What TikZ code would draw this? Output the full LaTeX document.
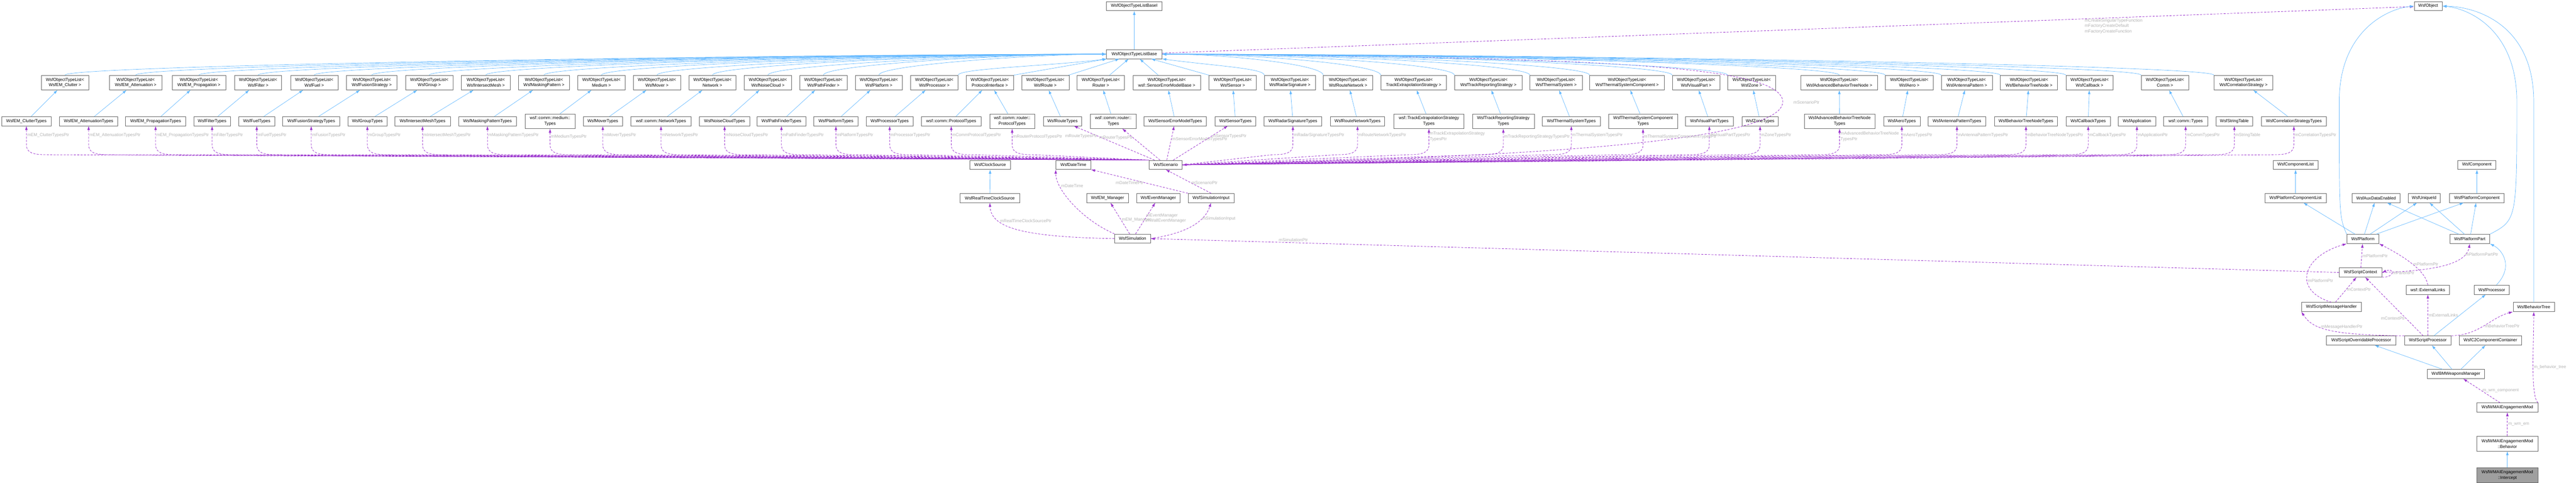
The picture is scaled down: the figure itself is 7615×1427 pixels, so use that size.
\documentclass[tikz,border=0pt]{standalone}
\usepackage{fontspec}
\setmainfont{Liberation Sans}
\usepackage{tikz}
\usetikzlibrary{arrows.meta}
\definecolor{inhblue}{RGB}{99,184,255}
\definecolor{usepurple}{RGB}{154,50,205}
\definecolor{edgegray}{RGB}{102,102,102}

\begin{document}
\begin{tikzpicture}[
    x=0.1mm, y=-0.1mm,
    every node/.style={font=\fontsize{3.6}{4.6}\selectfont},
    cls/.style={rectangle, draw=edgegray, fill=white, line width=0.3pt, minimum height=2.7mm, inner sep=0.4pt, align=center},
    cls2/.style={cls, minimum height=4.3mm},
    focus/.style={cls2, fill=gray!75},
    inh/.style={-{Latex[length=1.2mm,width=0.8mm]}, inhblue, line width=0.3pt},
    use/.style={-{Latex[length=1.2mm,width=0.8mm]}, usepurple, line width=0.35pt, dash pattern=on 0.6mm off 0.4mm},
    useb/.style={{Latex[length=1.2mm,width=0.8mm]}-, usepurple, line width=0.35pt, dash pattern=on 0.6mm off 0.4mm},
    lbl/.style={text=gray!60, inner sep=0.6pt, align=left}
]
\useasboundingbox (0,0) rectangle (7615,1427);

% Base classes
\node[cls, minimum width=16.4mm] (basei) at (3353,18) {WsfObjectTypeListBaseI};
\node[cls, minimum width=16.4mm] (base) at (3353,160) {WsfObjectTypeListBase};
\node[cls, minimum width=8.3mm] (obj) at (7178,18) {WsfObject};

% Type list templates
\node[cls2, minimum width=14.0mm] (lclutter) at (192,244) {WsfObjectTypeList<\\WsfEM\_Clutter >};
\node[cls2, minimum width=15.4mm] (latten) at (401,244) {WsfObjectTypeList<\\WsfEM\_Attenuation >};
\node[cls2, minimum width=15.8mm] (lprop) at (588,244) {WsfObjectTypeList<\\WsfEM\_Propagation >};
\node[cls2, minimum width=13.9mm] (lfilter) at (763,244) {WsfObjectTypeList<\\WsfFilter >};
\node[cls2, minimum width=14.0mm] (lfuel) at (929,244) {WsfObjectTypeList<\\WsfFuel >};
\node[cls2, minimum width=14.9mm] (lfusion) at (1099,244) {WsfObjectTypeList<\\WsfFusionStrategy >};
\node[cls2, minimum width=14.1mm] (lgroup) at (1269,244) {WsfObjectTypeList<\\WsfGroup >};
\node[cls2, minimum width=14.4mm] (lmesh) at (1436,244) {WsfObjectTypeList<\\WsfIntersectMesh >};
\node[cls2, minimum width=15.2mm] (lmask) at (1608,244) {WsfObjectTypeList<\\WsfMaskingPattern >};
\node[cls2, minimum width=14.1mm] (lmedium) at (1778,244) {WsfObjectTypeList<\\Medium >};
\node[cls2, minimum width=14.0mm] (lmover) at (1942,244) {WsfObjectTypeList<\\WsfMover >};
\node[cls2, minimum width=14.0mm] (lnet) at (2106,244) {WsfObjectTypeList<\\Network >};
\node[cls2, minimum width=14.0mm] (lnoise) at (2270,244) {WsfObjectTypeList<\\WsfNoiseCloud >};
\node[cls2, minimum width=14.0mm] (lpath) at (2434,244) {WsfObjectTypeList<\\WsfPathFinder >};
\node[cls2, minimum width=14.0mm] (lplat) at (2598,244) {WsfObjectTypeList<\\WsfPlatform >};
\node[cls2, minimum width=14.0mm] (lproc) at (2762,244) {WsfObjectTypeList<\\WsfProcessor >};
\node[cls2, minimum width=14.0mm] (lprot) at (2926,244) {WsfObjectTypeList<\\ProtocolInterface >};
\node[cls2, minimum width=14.0mm] (lroute) at (3090,244) {WsfObjectTypeList<\\WsfRoute >};
\node[cls2, minimum width=14.0mm] (lrouter) at (3254,244) {WsfObjectTypeList<\\Router >};
\node[cls2, minimum width=20.0mm] (lsem) at (3449,244) {WsfObjectTypeList<\\wsf::SensorErrorModelBase >};
\node[cls2, minimum width=14.0mm] (lsensor) at (3644,244) {WsfObjectTypeList<\\WsfSensor >};
\node[cls2, minimum width=15.0mm] (lradar) at (3813,244) {WsfObjectTypeList<\\WsfRadarSignature >};
\node[cls2, minimum width=14.6mm] (lrnet) at (3985,244) {WsfObjectTypeList<\\WsfRouteNetwork >};
\node[cls2, minimum width=19.4mm] (ltes) at (4179,244) {WsfObjectTypeList<\\TrackExtrapolationStrategy >};
\node[cls2, minimum width=20.0mm] (ltrs) at (4400,244) {WsfObjectTypeList<\\WsfTrackReportingStrategy >};
\node[cls2, minimum width=15.4mm] (lthermal) at (4600,244) {WsfObjectTypeList<\\WsfThermalSystem >};
\node[cls2, minimum width=22.1mm] (ltsc) at (4810,244) {WsfObjectTypeList<\\WsfThermalSystemComponent >};
\node[cls2, minimum width=14.1mm] (lvisual) at (5014,244) {WsfObjectTypeList<\\WsfVisualPart >};
\node[cls2, minimum width=14.1mm] (lzone) at (5178,244) {WsfObjectTypeList<\\WsfZone >};
\node[cls2, minimum width=22.7mm] (labtn) at (5437,244) {WsfObjectTypeList<\\WsfAdvancedBehaviorTreeNode >};
\node[cls2, minimum width=14.1mm] (laero) at (5644,244) {WsfObjectTypeList<\\WsfAero >};
\node[cls2, minimum width=15.1mm] (lant) at (5814,244) {WsfObjectTypeList<\\WsfAntennaPattern >};
\node[cls2, minimum width=16.9mm] (lbtn) at (5998,244) {WsfObjectTypeList<\\WsfBehaviorTreeNode >};
\node[cls2, minimum width=14.0mm] (lcallback) at (6177,244) {WsfObjectTypeList<\\WsfCallback >};
\node[cls2, minimum width=14.0mm] (lcomm) at (6400,244) {WsfObjectTypeList<\\Comm >};
\node[cls2, minimum width=17.4mm] (lcorr) at (6632,244) {WsfObjectTypeList<\\WsfCorrelationStrategy >};

% Concrete type lists
\node[cls, minimum width=14.6mm] (tclutter) at (78,358) {WsfEM\_ClutterTypes};
\node[cls, minimum width=17.2mm] (tatten) at (262,358) {WsfEM\_AttenuationTypes};
\node[cls, minimum width=17.8mm] (tprop) at (460,358) {WsfEM\_PropagationTypes};
\node[cls, minimum width=10.9mm] (tfilter) at (627,358) {WsfFilterTypes};
\node[cls, minimum width=10.6mm] (tfuel) at (759,358) {WsfFuelTypes};
\node[cls, minimum width=16.9mm] (tfusion) at (920,358) {WsfFusionStrategyTypes};
\node[cls, minimum width=11.6mm] (tgroup) at (1086,358) {WsfGroupTypes};
\node[cls, minimum width=16.4mm] (tmesh) at (1249,358) {WsfIntersectMeshTypes};
\node[cls, minimum width=17.1mm] (tmask) at (1441,358) {WsfMaskingPatternTypes};
\node[cls2, minimum width=14.7mm] (tmedium) at (1626,358) {wsf::comm::medium::\\Types};
\node[cls, minimum width=11.6mm] (tmover) at (1782,358) {WsfMoverTypes};
\node[cls, minimum width=17.8mm] (tnet) at (1954,358) {wsf::comm::NetworkTypes};
\node[cls, minimum width=15.0mm] (tnoise) at (2142,358) {WsfNoiseCloudTypes};
\node[cls, minimum width=14.5mm] (tpath) at (2310,358) {WsfPathFinderTypes};
\node[cls, minimum width=13.1mm] (tplat) at (2471,358) {WsfPlatformTypes};
\node[cls, minimum width=13.9mm] (tproc) at (2630,358) {WsfProcessorTypes};
\node[cls, minimum width=17.7mm] (tprot) at (2812,358) {wsf::comm::ProtocolTypes};
\node[cls2, minimum width=13.3mm] (trprot) at (2992,358) {wsf::comm::router::\\ProtocolTypes};
\node[cls, minimum width=11.4mm] (troute) at (3141,358) {WsfRouteTypes};
\node[cls2, minimum width=13.6mm] (trouter) at (3291,358) {wsf::comm::router::\\Types};
\node[cls, minimum width=18.4mm] (tsem) at (3474,358) {WsfSensorErrorModelTypes};
\node[cls, minimum width=12.1mm] (tsensor) at (3652,358) {WsfSensorTypes};
\node[cls, minimum width=17.1mm] (tradar) at (3822,358) {WsfRadarSignatureTypes};
\node[cls, minimum width=16.1mm] (trnet) at (4013,358) {WsfRouteNetworkTypes};
\node[cls2, minimum width=20.7mm] (ttes) at (4224,358) {wsf::TrackExtrapolationStrategy\\Types};
\node[cls2, minimum width=18.3mm] (ttrs) at (4444,358) {WsfTrackReportingStrategy\\Types};
\node[cls, minimum width=17.3mm] (tthermal) at (4645,358) {WsfThermalSystemTypes};
\node[cls2, minimum width=20.4mm] (ttsc) at (4857,358) {WsfThermalSystemComponent\\Types};
\node[cls, minimum width=14.3mm] (tvisual) at (5053,358) {WsfVisualPartTypes};
\node[cls, minimum width=10.7mm] (tzone) at (5203,358) {WsfZoneTypes};
\node[cls2, minimum width=20.9mm] (tabtn) at (5438,358) {WsfAdvancedBehaviorTreeNode\\Types};
\node[cls, minimum width=10.8mm] (taero) at (5622,358) {WsfAeroTypes};
\node[cls, minimum width=17.0mm] (tant) at (5785,358) {WsfAntennaPatternTypes};
\node[cls, minimum width=18.6mm] (tbtn) at (5989,358) {WsfBehaviorTreeNodeTypes};
\node[cls, minimum width=13.2mm] (tcallback) at (6173,358) {WsfCallbackTypes};
\node[cls, minimum width=11.1mm] (app) at (6317,358) {WsfApplication};
\node[cls, minimum width=13.0mm] (tcomm) at (6461,358) {wsf::comm::Types};
\node[cls, minimum width=10.9mm] (strtab) at (6605,358) {WsfStringTable};
\node[cls, minimum width=19.2mm] (tcorr) at (6781,358) {WsfCorrelationStrategyTypes};

% Scenario and simulation
\node[cls, minimum width=11.9mm] (clock) at (2927,487) {WsfClockSource};
\node[cls, minimum width=10.3mm] (datetime) at (3173,487) {WsfDateTime};
\node[cls, minimum width=9.8mm] (scen) at (3446,487) {WsfScenario};
\node[cls, minimum width=17.6mm] (rtcs) at (2926,585) {WsfRealTimeClockSource};
\node[cls, minimum width=12.3mm] (emmgr) at (3274,585) {WsfEM\_Manager};
\node[cls, minimum width=12.9mm] (evmgr) at (3424,585) {WsfEventManager};
\node[cls, minimum width=13.6mm] (siminput) at (3580,585) {WsfSimulationInput};
\node[cls, minimum width=10.6mm] (sim) at (3348,705) {WsfSimulation};

% Platform side
\node[cls, minimum width=13.3mm] (complist) at (6786,487) {WsfComponentList};
\node[cls, minimum width=11.3mm] (comp) at (7322,487) {WsfComponent};
\node[cls, minimum width=18.1mm] (pcomplist) at (6786,585) {WsfPlatformComponentList};
\node[cls, minimum width=14.1mm] (aux) at (7024,585) {WsfAuxDataEnabled};
\node[cls, minimum width=9.5mm] (uid) at (7166,585) {WsfUniqueId};
\node[cls, minimum width=16.1mm] (pcomp) at (7322,585) {WsfPlatformComponent};
\node[cls, minimum width=9.5mm] (plat) at (6985,706) {WsfPlatform};
\node[cls, minimum width=11.8mm] (part) at (7301,706) {WsfPlatformPart};
\node[cls, minimum width=12.6mm] (sctx) at (6978,805) {WsfScriptContext};
\node[cls, minimum width=12.9mm] (extlinks) at (7177,856) {wsf::ExternalLinks};
\node[cls, minimum width=10.4mm] (proc) at (7366,856) {WsfProcessor};
\node[cls, minimum width=17.7mm] (smh) at (6892,907) {WsfScriptMessageHandler};
\node[cls, minimum width=12.2mm] (btree) at (7490,907) {WsfBehaviorTree};
\node[cls, minimum width=20.5mm] (sop) at (6980,1006) {WsfScriptOverridableProcessor};
\node[cls, minimum width=13.8mm] (sproc) at (7177,1006) {WsfScriptProcessor};
\node[cls, minimum width=18.5mm] (c2) at (7362,1006) {WsfC2ComponentContainer};
\node[cls, minimum width=16.9mm] (bmwm) at (7260,1105) {WsfBMWeaponsManager};
\node[cls, minimum width=18.0mm] (engmod) at (7412,1204) {WsfWMAIEngagementMod};
\node[cls2, minimum width=18.0mm] (behavior) at (7412,1311) {WsfWMAIEngagementMod\\::Behavior};
\node[focus, minimum width=18.0mm] (intercept) at (7412,1404) {WsfWMAIEngagementMod\\::Intercept};

% Base hierarchy
\draw[inh] (base) -- (basei);
\draw[use] (base) -- node[lbl, below, pos=0.76]{mCreateSingularTypeFunction\\mFactoryCreateDefault\\mFactoryCreateFunction} (obj);
\draw[use] (base.east) .. controls (4700,170) and (5265,190) .. (5270,300) .. controls (5275,440) and (4200,470) .. (scen.east);
\node[lbl] at (5340,302) {mScenarioPtr};

% Templates to base
\draw[inh] (lclutter.north) .. controls +(0,-30) and +(-900,0) .. (base.west);
\draw[inh] (latten.north) .. controls +(0,-30) and +(-900,0) .. (base.west);
\draw[inh] (lprop.north) .. controls +(0,-30) and +(-800,0) .. (base.west);
\draw[inh] (lfilter.north) .. controls +(0,-30) and +(-800,0) .. (base.west);
\draw[inh] (lfuel.north) .. controls +(0,-30) and +(-700,0) .. (base.west);
\draw[inh] (lfusion.north) .. controls +(0,-30) and +(-700,0) .. (base.west);
\draw[inh] (lgroup.north) .. controls +(0,-30) and +(-600,0) .. (base.west);
\draw[inh] (lmesh.north) .. controls +(0,-30) and +(-600,0) .. (base.west);
\draw[inh] (lmask.north) .. controls +(0,-30) and +(-500,0) .. (base.west);
\draw[inh] (lmedium.north) .. controls +(0,-30) and +(-500,0) .. (base.west);
\draw[inh] (lmover.north) .. controls +(0,-30) and +(-400,0) .. (base.west);
\draw[inh] (lnet.north) .. controls +(0,-30) and +(-400,0) .. (base.west);
\draw[inh] (lnoise.north) .. controls +(0,-30) and +(-300,0) .. (base.west);
\draw[inh] (lpath.north) .. controls +(0,-30) and +(-300,0) .. (base.west);
\draw[inh] (lplat.north) .. controls +(0,-30) and +(-200,0) .. (base.west);
\draw[inh] (lproc.north east) .. controls +(0,-20) and +(-150,20) .. (base.south west);
\draw[inh] (lprot.north east) -- (base);
\draw[inh] (lroute) -- (base);
\draw[inh] (lrouter) -- (base);
\draw[inh] (lsem) -- (base);
\draw[inh] (lsensor.north west) -- (base);
\draw[inh] (lradar.north west) .. controls +(0,-20) and +(150,20) .. (base.south east);
\draw[inh] (lrnet.north west) .. controls +(0,-30) and +(200,0) .. (base.east);
\draw[inh] (ltes.north west) .. controls +(0,-30) and +(300,0) .. (base.east);
\draw[inh] (ltrs.north west) .. controls +(0,-30) and +(400,0) .. (base.east);
\draw[inh] (lthermal.north west) .. controls +(0,-30) and +(500,0) .. (base.east);
\draw[inh] (ltsc.north west) .. controls +(0,-30) and +(600,0) .. (base.east);
\draw[inh] (lvisual.north west) .. controls +(0,-30) and +(700,0) .. (base.east);
\draw[inh] (lzone.north west) .. controls +(0,-30) and +(700,0) .. (base.east);
\draw[inh] (labtn.north) .. controls +(0,-30) and +(800,0) .. (base.east);
\draw[inh] (laero.north west) .. controls +(0,-30) and +(800,0) .. (base.east);
\draw[inh] (lant.north west) .. controls +(0,-30) and +(900,0) .. (base.east);
\draw[inh] (lbtn.north west) .. controls +(0,-30) and +(900,0) .. (base.east);
\draw[inh] (lcallback.north west) .. controls +(0,-30) and +(1000,0) .. (base.east);
\draw[inh] (lcomm.north west) .. controls +(0,-30) and +(1000,0) .. (base.east);
\draw[inh] (lcorr.north west) .. controls +(0,-30) and +(1100,0) .. (base.east);

% Types to templates
\draw[inh] (tclutter) -- (lclutter);
\draw[inh] (tatten) -- (latten);
\draw[inh] (tprop) -- (lprop);
\draw[inh] (tfilter) -- (lfilter);
\draw[inh] (tfuel) -- (lfuel);
\draw[inh] (tfusion) -- (lfusion);
\draw[inh] (tgroup) -- (lgroup);
\draw[inh] (tmesh) -- (lmesh);
\draw[inh] (tmask) -- (lmask);
\draw[inh] (tmedium) -- (lmedium);
\draw[inh] (tmover) -- (lmover);
\draw[inh] (tnet) -- (lnet);
\draw[inh] (tnoise) -- (lnoise);
\draw[inh] (tpath) -- (lpath);
\draw[inh] (tplat) -- (lplat);
\draw[inh] (tproc) -- (lproc);
\draw[inh] (tprot) -- (lprot);
\draw[inh] (trprot) -- (lprot);
\draw[inh] (troute) -- (lroute);
\draw[inh] (trouter) -- (lrouter);
\draw[inh] (tsem) -- (lsem);
\draw[inh] (tsensor) -- (lsensor);
\draw[inh] (tradar) -- (lradar);
\draw[inh] (trnet) -- (lrnet);
\draw[inh] (ttes) -- (ltes);
\draw[inh] (ttrs) -- (ltrs);
\draw[inh] (tthermal) -- (lthermal);
\draw[inh] (ttsc) -- (ltsc);
\draw[inh] (tvisual) -- (lvisual);
\draw[inh] (tzone) -- (lzone);
\draw[inh] (tabtn) -- (labtn);
\draw[inh] (taero) -- (laero);
\draw[inh] (tant) -- (lant);
\draw[inh] (tbtn) -- (lbtn);
\draw[inh] (tcallback) -- (lcallback);
\draw[inh] (tcomm) -- (lcomm);
\draw[inh] (tcorr) -- (lcorr);

% Scenario members
\draw[useb] (tclutter.south) -- node[lbl, right]{mEM\_ClutterTypesPtr} ++(0,55) .. controls +(0,25) and +(-40,0) .. ++(60,30) -- (scen.north west);
\draw[useb] (tatten.south) -- node[lbl, right]{mEM\_AttenuationTypesPtr} ++(0,55) .. controls +(0,25) and +(-40,0) .. ++(60,30) -- (scen.north west);
\draw[useb] (tprop.south) -- node[lbl, right]{mEM\_PropagationTypesPtr} ++(0,55) .. controls +(0,25) and +(-40,0) .. ++(60,30) -- (scen.north west);
\draw[useb] (tfilter.south) -- node[lbl, right]{mFilterTypesPtr} ++(0,55) .. controls +(0,25) and +(-40,0) .. ++(60,30) -- (scen.north west);
\draw[useb] (tfuel.south) -- node[lbl, right]{mFuelTypesPtr} ++(0,55) .. controls +(0,25) and +(-40,0) .. ++(60,30) -- (scen.north west);
\draw[useb] (tfusion.south) -- node[lbl, right]{mFusionTypesPtr} ++(0,55) .. controls +(0,25) and +(-40,0) .. ++(60,30) -- (scen.north west);
\draw[useb] (tgroup.south) -- node[lbl, right]{mGroupTypesPtr} ++(0,55) .. controls +(0,25) and +(-40,0) .. ++(60,30) -- (scen.north west);
\draw[useb] (tmesh.south) -- node[lbl, right]{mIntersectMeshTypesPtr} ++(0,55) .. controls +(0,25) and +(-40,0) .. ++(60,30) -- (scen.north west);
\draw[useb] (tmask.south) -- node[lbl, right]{mMaskingPatternTypesPtr} ++(0,55) .. controls +(0,25) and +(-40,0) .. ++(60,30) -- (scen.north west);
\draw[useb] (tmedium.south) -- node[lbl, right]{mMediumTypesPtr} ++(0,47) .. controls +(0,25) and +(-40,0) .. ++(60,30) -- (scen.north west);
\draw[useb] (tmover.south) -- node[lbl, right]{mMoverTypesPtr} ++(0,55) .. controls +(0,25) and +(-40,0) .. ++(60,30) -- (scen.north west);
\draw[useb] (tnet.south) -- node[lbl, right]{mNetworkTypesPtr} ++(0,55) .. controls +(0,25) and +(-40,0) .. ++(60,30) -- (scen.north west);
\draw[useb] (tnoise.south) -- node[lbl, right]{mNoiseCloudTypesPtr} ++(0,55) .. controls +(0,25) and +(-40,0) .. ++(60,30) -- (scen.north west);
\draw[useb] (tpath.south) -- node[lbl, right]{mPathFinderTypesPtr} ++(0,55) .. controls +(0,25) and +(-40,0) .. ++(60,30) -- (scen.north west);
\draw[useb] (tplat.south) -- node[lbl, right]{mPlatformTypesPtr} ++(0,55) .. controls +(0,25) and +(-40,0) .. ++(60,30) -- (scen.north west);
\draw[useb] (tproc.south) -- node[lbl, right]{mProcessorTypesPtr} ++(0,55) .. controls +(0,25) and +(-40,0) .. ++(60,30) -- (scen.north west);
\draw[useb] (tprot.south) -- node[lbl, right]{mCommProtocolTypesPtr} ++(0,55) .. controls +(0,25) and +(-40,0) .. ++(60,30) -- (scen.north west);
\draw[useb] (trprot.south) -- node[lbl, right]{mRouterProtocolTypesPtr} ++(0,47) .. controls +(0,25) and +(-40,0) .. ++(60,30) -- (scen.north west);
\draw[use] (scen) -- node[lbl, left, pos=0.7]{mRouteTypesPtr} (troute);
\draw[use] (scen) -- node[lbl, left, pos=0.7]{mRouterTypesPtr} (trouter);
\draw[use] (scen) -- node[lbl, right, pos=0.6]{mSensorErrorModelTypesPtr} (tsem);
\draw[use] (scen) -- node[lbl, right, pos=0.7]{mSensorTypesPtr} (tsensor);
\draw[useb] (tradar.south) -- node[lbl, right]{mRadarSignatureTypesPtr} ++(0,55) .. controls +(0,25) and +(40,0) .. ++(-60,30) -- (scen.east);
\draw[useb] (trnet.south) -- node[lbl, right]{mRouteNetworkTypesPtr} ++(0,55) .. controls +(0,25) and +(40,0) .. ++(-60,30) -- (scen.east);
\draw[useb] (ttes.south) -- node[lbl, right]{mTrackExtrapolationStrategy\\TypesPtr} ++(0,47) .. controls +(0,25) and +(40,0) .. ++(-60,30) -- (scen.east);
\draw[useb] (ttrs.south) -- node[lbl, right]{mTrackReportingStrategyTypesPtr} ++(0,47) .. controls +(0,25) and +(40,0) .. ++(-60,30) -- (scen.east);
\draw[useb] (tthermal.south) -- node[lbl, right]{mThermalSystemTypesPtr} ++(0,55) .. controls +(0,25) and +(40,0) .. ++(-60,30) -- (scen.east);
\draw[useb] (ttsc.south) -- node[lbl, right]{mThermalSystemComponentTypesPtr} ++(0,47) .. controls +(0,25) and +(40,0) .. ++(-60,30) -- (scen.east);
\draw[useb] (tvisual.south) -- node[lbl, right]{mVisualPartTypesPtr} ++(0,55) .. controls +(0,25) and +(40,0) .. ++(-60,30) -- (scen.east);
\draw[useb] (tzone.south) -- node[lbl, right]{mZoneTypesPtr} ++(0,55) .. controls +(0,25) and +(40,0) .. ++(-60,30) -- (scen.east);
\draw[useb] (tabtn.south) -- node[lbl, right]{mAdvancedBehaviorTreeNode\\TypesPtr} ++(0,47) .. controls +(0,25) and +(40,0) .. ++(-60,30) -- (scen.east);
\draw[useb] (taero.south) -- node[lbl, right]{mAeroTypesPtr} ++(0,55) .. controls +(0,25) and +(40,0) .. ++(-60,30) -- (scen.east);
\draw[useb] (tant.south) -- node[lbl, right]{mAntennaPatternTypesPtr} ++(0,55) .. controls +(0,25) and +(40,0) .. ++(-60,30) -- (scen.east);
\draw[useb] (tbtn.south) -- node[lbl, right]{mBehaviorTreeNodeTypesPtr} ++(0,55) .. controls +(0,25) and +(40,0) .. ++(-60,30) -- (scen.east);
\draw[useb] (tcallback.south) -- node[lbl, right]{mCallbackTypesPtr} ++(0,55) .. controls +(0,25) and +(40,0) .. ++(-60,30) -- (scen.east);
\draw[useb] (app.south) -- node[lbl, right]{mApplicationPtr} ++(0,55) .. controls +(0,25) and +(40,0) .. ++(-60,30) -- (scen.east);
\draw[useb] (tcomm.south) -- node[lbl, right]{mCommTypesPtr} ++(0,55) .. controls +(0,25) and +(40,0) .. ++(-60,30) -- (scen.east);
\draw[useb] (strtab.south) -- node[lbl, right]{mStringTable} ++(0,55) .. controls +(0,25) and +(40,0) .. ++(-60,30) -- (scen.east);
\draw[useb] (tcorr.south) -- node[lbl, right]{mCorrelationTypesPtr} ++(0,55) .. controls +(0,25) and +(40,0) .. ++(-60,30) -- (scen.east);

% Simulation members
\draw[inh] (rtcs) -- (clock);
\draw[use] (siminput.north west) -- node[lbl, left, pos=0.45]{mDateTimePtr} (datetime.south east);
\draw[use] (siminput.north) -- node[lbl, right, pos=0.45]{mScenarioPtr} (scen.south);
\draw[use] (sim.west) .. controls (3010,700) and (2930,670) .. node[lbl, right, pos=0.7]{mRealTimeClockSourcePtr} (rtcs.south);
\draw[use] (sim.north west) .. controls (3200,650) and (3120,560) .. node[lbl, right, pos=0.75]{mDateTime} (datetime.south west);
\draw[use] (sim) -- node[lbl, right, pos=0.45]{mEM\_Manager} (emmgr);
\draw[use] (sim) -- node[lbl, right, pos=0.5]{mEventManager\\mWallEventManager} (evmgr);
\draw[use] (sim.east) .. controls (3500,690) and (3560,660) .. node[lbl, right, pos=0.7]{mSimulationInput} (siminput.south);
\draw[use] (sctx.west) -- node[lbl, above, pos=0.88]{mSimulationPtr} (sim.east);

% Platform hierarchy
\draw[inh] (pcomplist) -- (complist);
\draw[inh] (pcomp) -- (comp);
\draw[inh] (plat) -- (pcomplist);
\draw[inh] (plat) -- (aux);
\draw[inh] (plat) -- (uid);
\draw[inh] (plat) -- (pcomp);
\draw[inh] (part) -- (aux);
\draw[inh] (part) -- (uid);
\draw[inh] (part) -- (pcomp);
\draw[inh] (plat.north west) .. controls (6915,640) .. (6915,300) .. controls (6915,90) and (7060,25) .. (obj.west);
\draw[inh] (part.north east) .. controls (7440,650) .. (7440,300) .. controls (7440,90) and (7300,25) .. (obj.east);
\draw[inh] (btree.north) -- (7490,300) .. controls (7490,80) and (7330,20) .. (obj.east);
\draw[inh] (proc) .. controls (7430,790) and (7400,740) .. (part.south east);
\draw[inh] (sproc) -- (proc);
\draw[inh] (bmwm) -- (sop);
\draw[inh] (bmwm) -- (sproc);
\draw[inh] (bmwm) -- (c2);
\draw[inh] (intercept) -- (behavior);

% Platform members
\draw[use] (sctx) -- node[lbl, right]{mPlatformPtr} (plat);
\draw[use] (smh.north) .. controls (6780,860) and (6800,760) .. node[lbl, right, pos=0.4]{mPlatformPtr} (plat.south west);
\draw[use] (extlinks.north) .. controls (7170,800) and (7110,760) .. node[lbl, right, pos=0.5]{mPlatformPtr} (plat.south east);
\draw[use] (sctx.east) .. controls (7200,800) and (7290,780) .. node[lbl, right, pos=0.8]{mPlatformPartPtr} (part.south);
\draw[use] (sctx.south east) .. controls (7080,820) and (7080,790) .. node[lbl, right, pos=0.5]{mParentPtr} (sctx.east);
\draw[use] (smh) -- node[lbl, right]{mContextPtr} (sctx);
\draw[use] (sproc) -- node[lbl, left, pos=0.3]{mContextPtr} (sctx);
\draw[use] (sproc) -- node[lbl, right]{mExternalLinks} (extlinks);
\draw[use] (sproc.north west) .. controls (6880,990) and (6835,970) .. node[lbl, right, pos=0.6]{mMessageHandlerPtr} (smh.south west);
\draw[use] (sproc.north east) .. controls (7330,990) and (7360,940) .. node[lbl, right, pos=0.5]{mBehaviorTreePtr} (btree.south west);
\draw[use] (engmod) -- node[lbl, right]{m\_wm\_component} (bmwm);
\draw[use] (engmod.north east) .. controls (7480,1170) and (7490,1020) .. node[lbl, right, pos=0.5]{m\_behavior\_tree} (btree.south);
\draw[use] (behavior) -- node[lbl, right]{m\_wm\_em} (engmod);

\end{tikzpicture}
\end{document}
